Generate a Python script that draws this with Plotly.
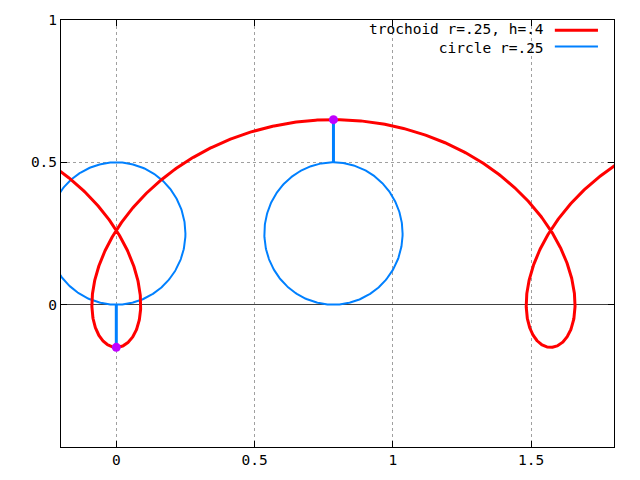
import numpy as np
import plotly.graph_objects as go

# curve parameters, as given in the key
r = 0.25
h = 0.4
# roll angles at which the rolling circle is drawn
roll_angles = [0.0, np.pi]
t_start, t_end = -2.2, 8.6

x_ticks = [0, 0.5, 1, 1.5]
x_labels = ["0", "0.5", "1", "1.5"]
y_ticks = [0, 0.5, 1]
y_labels = ["0", "0.5", "1"]
key_labels = ["trochoid r=.25, h=.4", "circle r=.25"]

red = "#ff0000"
blue = "#0080ff"
dot_col = "#c000ff"
font = dict(family="DejaVu Sans Mono", size=14.5, color="black")

t = np.linspace(t_start, t_end, 1200)
tx = r * t - h * np.sin(t)
ty = r - h * np.cos(t)

fig = go.Figure()

phi = np.linspace(0, 2 * np.pi, 361)
for a in roll_angles:
    cx, cy = r * a, r
    fig.add_trace(go.Scatter(x=cx + r * np.cos(phi), y=cy + r * np.sin(phi),
                             mode="lines", line=dict(color=blue, width=2),
                             showlegend=False, hoverinfo="skip"))
    # spoke from rim to the tracing point
    px, py = r * a - h * np.sin(a), r - h * np.cos(a)
    rx, ry = cx - r * np.sin(a), cy - r * np.cos(a)
    fig.add_trace(go.Scatter(x=[rx, px], y=[ry, py], mode="lines",
                             line=dict(color=blue, width=3),
                             showlegend=False, hoverinfo="skip"))

fig.add_trace(go.Scatter(x=tx, y=ty, mode="lines", line=dict(color=red, width=3),
                         showlegend=False, hoverinfo="skip"))

for a in roll_angles:
    px, py = r * a - h * np.sin(a), r - h * np.cos(a)
    fig.add_trace(go.Scatter(x=[px], y=[py], mode="markers",
                             marker=dict(color=dot_col, size=9),
                             showlegend=False, hoverinfo="skip"))

# gnuplot style key: right aligned text, sample line on the right
fig.add_annotation(x=0.877, y=0.957, xref="paper", yref="paper",
                   text="<br>".join(key_labels), align="right",
                   showarrow=False, xanchor="right", yanchor="middle", font=font)
for col, w, yy in [(red, 3, 0.976), (blue, 2, 0.938)]:
    fig.add_shape(type="line", xref="paper", yref="paper", x0=0.893, x1=0.971,
                  y0=yy, y1=yy, line=dict(color=col, width=w))

fig.update_layout(
    width=640, height=480,
    margin=dict(l=61, r=26, t=17, b=31),
    paper_bgcolor="white", plot_bgcolor="white",
    font=font,
    showlegend=False,
)
fig.update_xaxes(range=[-0.2, 1.8], tickvals=x_ticks, ticktext=x_labels,
                 showline=True, linecolor="black", linewidth=1, mirror="ticks",
                 ticks="inside", ticklen=6, tickcolor="black",
                 showgrid=True, gridcolor="#a0a0a0", griddash="dot", gridwidth=1,
                 zeroline=False)
fig.update_yaxes(range=[-0.5, 1], tickvals=y_ticks, ticktext=y_labels,
                 showline=True, linecolor="black", linewidth=1, mirror="ticks",
                 ticks="inside", ticklen=6, tickcolor="black",
                 showgrid=True, gridcolor="#a0a0a0", griddash="dot", gridwidth=1,
                 zeroline=True, zerolinecolor="#404040", zerolinewidth=1)

fig.write_html("out.html", config={"displayModeBar": False},
               post_script="document.body.style.margin='0';")
